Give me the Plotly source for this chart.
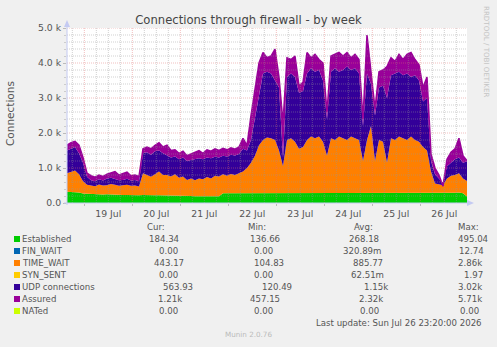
import numpy as np
import pandas as pd
import plotly.graph_objects as go

# ---------------- data (2-hour samples) ----------------
START = "2026-07-18 15:20"
N_POINTS = 101
TIMES = pd.date_range(START, periods=N_POINTS, freq="2h")

ESTABLISHED = [320, 320, 310, 300, 270, 260, 250, 250, 240, 240,
               250, 240, 230, 240, 230, 230, 220, 230, 220, 230,
               220, 230, 220, 220, 220, 210, 210, 200, 200, 210,
               200, 200, 190, 190, 190, 190, 180, 180, 190, 280,
               280, 280, 290, 280, 280, 290, 280, 290, 290, 280,
               280, 280, 270, 280, 270, 280, 270, 280, 280, 270,
               280, 270, 280, 270, 280, 270, 280, 270, 280, 280,
               270, 280, 270, 280, 280, 270, 280, 270, 280, 280,
               270, 280, 280, 270, 280, 280, 270, 280, 280, 270,
               280, 270, 280, 270, 280, 270, 280, 290, 300, 280,
               184]

TIME_WAIT = [530, 580, 620, 520, 350, 260, 250, 230, 290, 260,
             260, 300, 290, 250, 280, 290, 270, 270, 250, 620,
             580, 520, 600, 680, 580, 590, 550, 620, 520, 550,
             460, 500, 460, 510, 490, 550, 520, 600, 570, 540,
             500, 550, 510, 570, 620, 710, 870, 1060, 1360, 1520,
             1590, 1570, 1530, 1220, 780, 1520, 1580, 1470, 1270, 1330,
             1520, 1630, 1570, 1630, 1470, 1080, 1570, 1530, 1620, 1570,
             1530, 1620, 1580, 1520, 920, 1530, 1920, 930, 1520, 1470,
             880, 1570, 1520, 1630, 1570, 1520, 1630, 1520, 1470, 1330,
             1220, 630, 280, 270, 230, 430, 500, 510, 550, 420,
             443]

UDP = [650, 650, 670, 600, 530, 230, 150, 140, 150, 140,
       190, 180, 160, 160, 150, 170, 150, 160, 150, 570,
       650, 630, 660, 600, 620, 550, 540, 510, 530, 540,
       540, 530, 600, 580, 570, 560, 580, 540, 540, 530,
       550, 550, 560, 550, 650, 500, 650, 1050, 1450, 1900,
       1880, 1850, 1700, 1800, 250, 1800, 1850, 1850, 1600, 1600,
       1900, 1950, 1900, 1900, 1750, 1050, 1900, 2050, 1850, 1950,
       2100, 1900, 2000, 1900, 1000, 1900, 1200, 1300, 1500, 1600,
       1850, 1800, 1900, 1850, 1800, 1900, 1700, 1850, 1750, 1300,
       1500, 300, 260, 160, 60, 350, 370, 450, 450, 450,
       564]

ASSURED = [1650, 1720, 1760, 1650, 1300, 850, 780, 740, 800, 760,
           820, 850, 900, 800, 830, 880, 780, 800, 760, 1550,
           1600, 1550, 1650, 1720, 1600, 1650, 1500, 1520, 1420, 1480,
           1350, 1400, 1450, 1500, 1420, 1520, 1480, 1550, 1500, 1560,
           1520, 1580, 1540, 1600, 1850, 1650, 2500, 3300, 4000, 4300,
           4150, 4200, 4400, 3600, 2300, 4150, 4100, 4200, 3350, 3450,
           4300, 4150, 4250, 4100, 4000, 2600, 4200, 4250, 4300, 4200,
           4300, 4150, 4250, 4100, 2400, 4800, 3800, 2700, 3750, 3800,
           3900, 4150, 4050, 4250, 4100, 4250, 4300, 4100, 3950, 3300,
           3600, 1400, 1000, 800, 480, 1250, 1450, 1550, 1850, 1350,
           1210]

Y_TICKS = [0, 1000, 2000, 3000, 4000, 5000]
Y_TICK_TEXT = ["0.0", "1.0 k", "2.0 k", "3.0 k", "4.0 k", "5.0 k"]

NAMES = ["Established", "FIN_WAIT", "TIME_WAIT", "SYN_SENT",
         "UDP connections", "Assured", "NATed"]
COLORS = ["#00CC00", "#0066B3", "#FF8000", "#FFCC00",
          "#330099", "#990099", "#CCFF00"]
CUR = ["184.34", "0.00", "443.17", "0.00", "563.93", "1.21k", "0.00"]
MIN = ["136.66", "0.00", "104.83", "0.00", "120.49", "457.15", "0.00"]
AVG = ["268.18", "320.89m", "885.77", "62.51m", "1.15k", "2.32k", "0.00"]
MAX = ["495.04", "12.74", "2.86k", "1.97", "3.02k", "5.71k", "0.00"]

# ---------------- layout geometry ----------------
W, H = 497, 347
ML, MR, MT, MB = 67, 30, 28, 144
PW = W - ML - MR
PH = H - MT - MB
FONT = "DejaVu Sans"
TXT = "#555555"


def px(x):
    return (x - ML) / PW


def py(y):
    return (H - MB - y) / PH


fig = go.Figure()

stack_series = [("Established", ESTABLISHED, COLORS[0]),
                ("TIME_WAIT", TIME_WAIT, COLORS[2]),
                ("UDP connections", UDP, COLORS[4])]
for name, vals, col in stack_series:
    fig.add_trace(go.Scatter(x=TIMES, y=vals, name=name, mode="lines",
                             stackgroup="stack", line=dict(width=0, color=col),
                             fillcolor=col, hoverinfo="skip"))

total = np.array(ESTABLISHED) + np.array(TIME_WAIT) + np.array(UDP)
fig.add_trace(go.Scatter(x=TIMES, y=total, mode="lines",
                         line=dict(width=0, color="rgba(0,0,0,0)"),
                         showlegend=False, hoverinfo="skip"))
fig.add_trace(go.Scatter(x=TIMES, y=ASSURED, name="Assured", mode="lines",
                         fill="tonexty", fillcolor=COLORS[5],
                         line=dict(width=1.5, color=COLORS[5]),
                         hoverinfo="skip"))

# ---------------- grid drawn above data (as rrdtool does) ----------------
shapes = []
MAJ = "rgba(225,110,110,0.45)"
MINC = "rgba(150,150,150,0.45)"
for v in range(200, 5001, 200):
    major = v % 1000 == 0
    shapes.append(dict(type="line", xref="paper", yref="y", x0=0, x1=1,
                       y0=v, y1=v, layer="above",
                       line=dict(color=MAJ if major else MINC, width=1,
                                 dash="1px,1px")))
for t in pd.date_range("2026-07-18 18:00", "2026-07-26 18:00", freq="6h"):
    major = t.hour == 0
    shapes.append(dict(type="line", xref="x", yref="paper", x0=t, x1=t,
                       y0=0, y1=1, layer="above",
                       line=dict(color=MAJ if major else MINC, width=1,
                                 dash="1px,1px")))

AX = "#C4CAF2"
# axis lines and arrows
shapes.append(dict(type="line", xref="paper", yref="paper", x0=0, x1=0,
                   y0=py(205), y1=py(22), line=dict(color=AX, width=1), layer="above"))
shapes.append(dict(type="line", xref="paper", yref="paper", x0=px(64), x1=px(468),
                   y0=0, y1=0, line=dict(color=AX, width=1), layer="above"))
shapes.append(dict(type="path", xref="paper", yref="paper",
                   path=f"M {px(64)} {py(27)} L {px(70)} {py(27)} L {px(67)} {py(20)} Z",
                   fillcolor=AX, line=dict(width=0), layer="above"))
shapes.append(dict(type="path", xref="paper", yref="paper",
                   path=f"M {px(467)} {py(200)} L {px(467)} {py(206)} L {px(474)} {py(203)} Z",
                   fillcolor=AX, line=dict(width=0), layer="above"))

# legend squares
ROW_Y = [239, 251, 263, 275, 287, 299, 311]
for col, ry in zip(COLORS, ROW_Y):
    shapes.append(dict(type="rect", xref="paper", yref="paper",
                       x0=px(14), x1=px(20), y0=py(ry + 3), y1=py(ry - 3),
                       fillcolor=col, line=dict(width=0)))

annotations = []


def txt(x, y, s, size=8.6, color=TXT, xanchor="left", **kw):
    annotations.append(dict(x=px(x), y=py(y), xref="paper", yref="paper",
                            text=s, showarrow=False, xanchor=xanchor,
                            yanchor="middle", borderpad=0,
                            font=dict(family=FONT, size=size, color=color), **kw))


# headers
txt(145.7, 227, "Cur:")
txt(246.7, 227, "Min:")
txt(352.7, 227, "Avg:")
txt(457.0, 227, "Max:")

CUR_X = [148.3, 157.7, 153.3, 157.7, 162.3, 157.0, 158.0]
MIN_X = [249.3, 253.3, 252.7, 253.3, 260.7, 249.0, 253.3]
AVG_X = [347.7, 341.7, 351.7, 350.0, 363.3, 358.3, 359.3]
MAX_X = [456.7, 458.3, 457.3, 462.7, 457.3, 457.3, 459.0]
for i, ry in enumerate(ROW_Y):
    txt(20.5, ry, NAMES[i])
    txt(CUR_X[i], ry, CUR[i])
    txt(MIN_X[i], ry, MIN[i])
    txt(AVG_X[i], ry, AVG[i])
    txt(MAX_X[i], ry, MAX[i])

txt(482.5, 323.3, "Last update: Sun Jul 26 23:20:00 2026", xanchor="right")
txt(248.5, 334, "Munin 2.0.76", size=7.2, color="#BBBBBB", xanchor="center")
txt(487, 51, "RRDTOOL / TOBI OETIKER", size=7.1, color="#C4C4C4",
    xanchor="center", textangle=90)
txt(10, 114, "Connections", size=10.5, color=TXT, xanchor="center", textangle=-90)

fig.update_layout(
    width=W, height=H,
    margin=dict(l=ML, r=MR, t=MT, b=MB, pad=0),
    paper_bgcolor="#F0F0F0", plot_bgcolor="#FFFFFF",
    showlegend=False,
    title=dict(text="Connections through firewall - by week",
               x=0.5, xref="container", xanchor="center",
               y=1 - 20 / H, yref="container", yanchor="middle",
               font=dict(family=FONT, size=11.6, color="#444444")),
    font=dict(family=FONT, color=TXT),
    shapes=shapes, annotations=annotations,
    xaxis=dict(type="date", range=[TIMES[0], TIMES[-1]],
               tick0="2026-07-19", dtick=86400000, ticklabelmode="period",
               tickformat="%d %b", showgrid=False, zeroline=False,
               showline=False, ticks="outside", ticklen=2, tickcolor="#BBBBBB",
               tickfont=dict(family=FONT, size=9.3, color=TXT)),
    yaxis=dict(range=[0, 5000], tickvals=Y_TICKS, ticktext=Y_TICK_TEXT,
               showgrid=False, zeroline=False, showline=False,
               ticks="outside", ticklen=3, tickcolor="#BBBBBB",
               minor=dict(dtick=200, ticks="outside", ticklen=2, tickcolor="#CCCCCC"),
               tickfont=dict(family=FONT, size=9.3, color=TXT)),
)

fig.write_html("out.html", config={"displayModeBar": False})
